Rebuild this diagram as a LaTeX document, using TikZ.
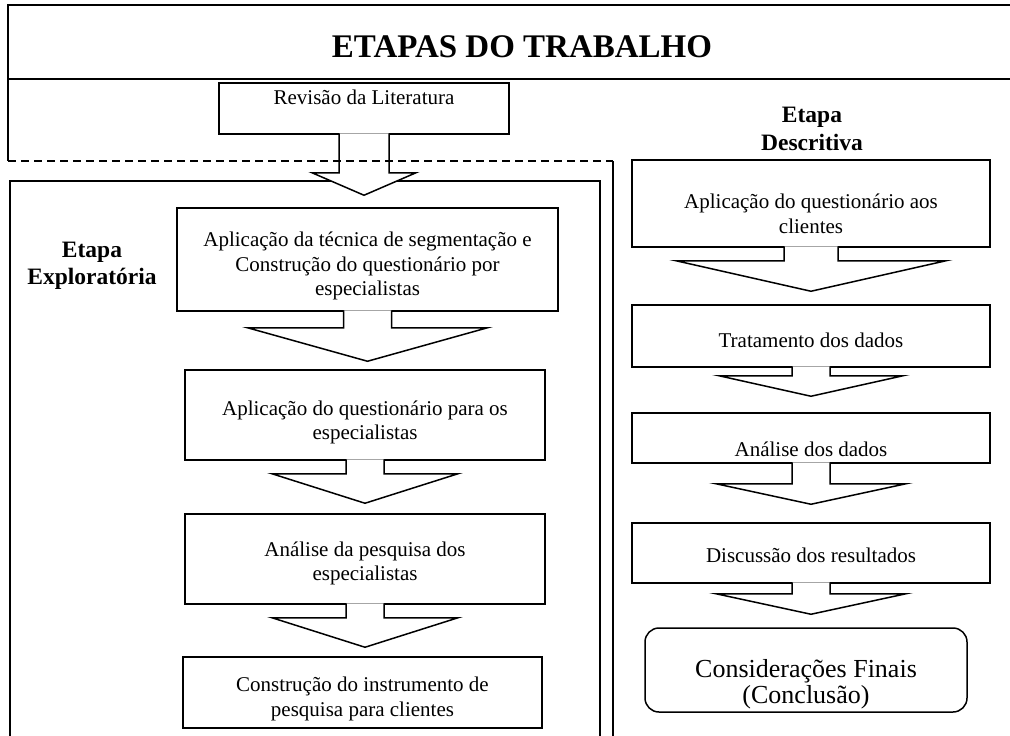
\documentclass[tikz,border=0pt]{standalone}
\usepackage{fontspec}
\setmainfont{Liberation Serif}
\usetikzlibrary{calc}
\begin{document}
\begin{tikzpicture}[x=1pt,y=-1pt]
  \tikzset{text drop/.style={execute at begin node={\rule{0pt}{#1}}},
           step box/.style={draw,line width=1.5pt,align=center,inner sep=0pt,font=\fontsize{21}{24.5}\selectfont},
           block arrow/.style={draw,fill=white,line width=1.5pt,line join=miter},
           stage label/.style={align=center,font=\bfseries\fontsize{23.5}{27.5}\selectfont}}
  \useasboundingbox (0,0) rectangle (1010,736);

  % frames
  \draw[line width=1.5pt] (1015,5) -- (8,5) -- (8,161);
  \draw[line width=1.5pt] (8,79) -- (1015,79);
  \draw[line width=1.5pt] (10,740) -- (10,181) -- (600,181) -- (600,740);
  \draw[line width=1.5pt] (613,161) -- (613,740);
  \node[font=\bfseries\fontsize{33}{36}\selectfont] (title) at (522,47) {ETAPAS DO TRABALHO};

  % left column
  \node[step box,minimum width=290,minimum height=51,text depth=22pt] (rev) at (364,108.5) {Revisão da Literatura};
  \node[stage label] (explo) at (92,266) {Etapa\\Exploratória};
  \node[step box,text drop=77pt,minimum width=381,minimum height=103] (box1) at (367.5,259.5) {Aplicação da técnica de segmentação e\\Construção do questionário por\\especialistas};
  \node[step box,text drop=53.5pt,minimum width=360,minimum height=90] (box2) at (365,415) {Aplicação do questionário para os\\especialistas};
  \node[step box,text drop=48pt,minimum width=360,minimum height=90] (box3) at (365,559) {Análise da pesquisa dos\\especialistas};
  \node[step box,text drop=51.5pt,minimum width=359,minimum height=71] (box4) at (362.5,692.5) {Construção do instrumento de\\pesquisa para clientes};

  % right column
  \node[stage label] (descr) at (812,129) {Etapa\\Descritiva};
  \node[step box,text drop=59.5pt,minimum width=358,minimum height=87] (rb1) at (811,203.5) {Aplicação do questionário aos\\clientes};
  \node[step box,text drop=23pt,minimum width=358,minimum height=62] (rb2) at (811,336) {Tratamento dos dados};
  \node[step box,text drop=38pt,minimum width=358,minimum height=50] (rb3) at (811,438) {Análise dos dados};
  \node[step box,text drop=20pt,minimum width=358,minimum height=60] (rb4) at (811,553) {Discussão dos resultados};
  \node[step box,text drop=73pt,rounded corners=14pt,minimum width=322,minimum height=84,font=\fontsize{26}{26}\selectfont] (fim) at (806,670) {Considerações Finais\\(Conclusão)};

  % block arrows
  \foreach \a/\b/\s/\h/\l/\g in {rev/box1/25/52/38/12, box1/box2/24/120/16/8, box2/box3/19/93/13/10, box3/box4/19/93/13/9,
                                 rb1/rb2/27/135/13/13, rb2/rb3/19/92/8/16, rb3/rb4/19/95/20/18, rb4/fim/19/95/10/13}
    \draw[block arrow] ($(\a.south)+(-\s,-1.5)$) -- ($(\a.south)+(-\s,\l)$) -- ($(\a.south)+(-\h,\l)$)
      -- ($(\a.south |- \b.north)+(0,-\g)$) -- ($(\a.south)+(\h,\l)$) -- ($(\a.south)+(\s,\l)$) -- ($(\a.south)+(\s,-1.5)$);

  \draw[line width=1.5pt,dash pattern=on 8pt off 5pt] (8,161) -- (613,161);
\end{tikzpicture}
\end{document}
